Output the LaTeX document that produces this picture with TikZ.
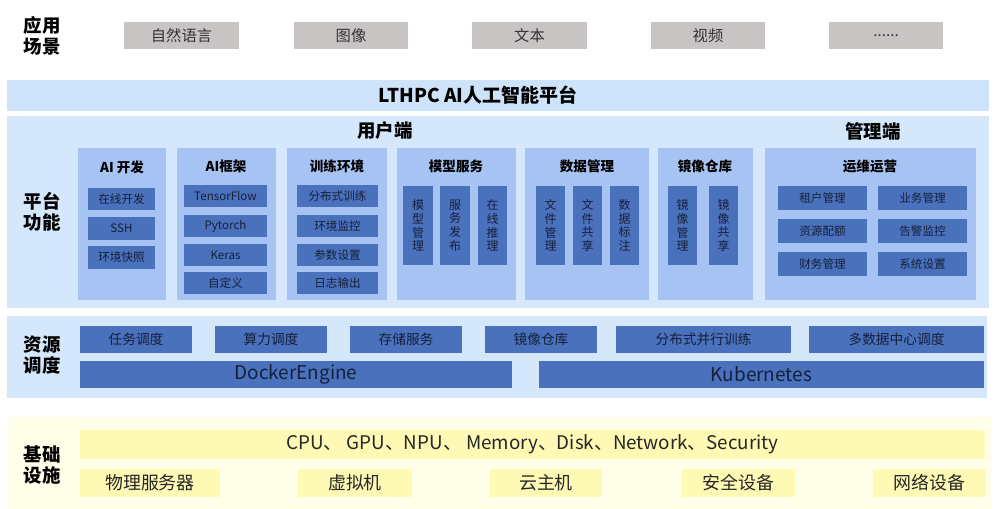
\documentclass[tikz,border=0pt]{standalone}
\usepackage{fontspec}
\setmainfont{Noto Sans CJK SC}
\definecolor{appgray}{HTML}{C9C4C4}
\definecolor{barblue}{HTML}{CCE3F9}
\definecolor{secblue}{HTML}{D4E7FB}
\definecolor{colblue}{HTML}{A6C3F3}
\definecolor{itemblue}{HTML}{4A71BC}
\definecolor{itemtext}{HTML}{15203A}
\definecolor{ybg}{HTML}{FFFEE9}
\definecolor{ybar}{HTML}{FFF9B6}
\newcommand\bx[7]{\node[#2, minimum width={(#5-#3)*0.02cm}, minimum height={(#6-#4)*0.02cm}] (#1) at ({(#3+#5)/2},{(#4+#6)/2}) {#7};}
\tikzset{
  base/.style={inner sep=0pt, outer sep=0pt},
  appbox/.style={base, fill=appgray, text=black!80, font=\fontsize{8.7}{10}\selectfont},
  bar/.style={base, fill=barblue},
  sect/.style={base, fill=secblue},
  col/.style={base, fill=colblue},
  item/.style={base, fill=itemblue, text=itemtext, font=\fontsize{6.6}{8}\selectfont},
  vitem/.style={base, fill=itemblue, text=itemtext, align=center, font=\fontsize{6.8}{7.8}\selectfont},
  ritem/.style={base, fill=itemblue, text=itemtext, font=\fontsize{7.8}{9}\selectfont},
  bigitem/.style={base, fill=itemblue, text=itemtext, font=\fontsize{10.8}{12}\selectfont},
  ybox/.style={base, fill=ybar, text=black!85, font=\fontsize{10.2}{12}\selectfont},
  lbl/.style={base, align=center, font=\bfseries\fontsize{10.5}{12}\selectfont},
  coltitle/.style={base, font=\bfseries\fontsize{7.7}{9}\selectfont},
  sectitle/.style={base, font=\bfseries\fontsize{10.5}{12}\selectfont},
}
\begin{document}
\begin{tikzpicture}[x=0.02cm, y=-0.02cm]
\useasboundingbox[fill=white] (0,0) rectangle (1000,509);
% application row
\node[lbl] (l1) at (42,36) {应用\\场景};
\bx{a1}{appbox}{124}{22}{239}{49}{自然语言}
\bx{a2}{appbox}{294}{22}{408}{49}{图像}
\bx{a3}{appbox}{472}{22}{587}{49}{文本}
\bx{a4}{appbox}{651}{22}{765}{49}{视频}
\bx{a5}{appbox}{829}{22}{943}{49}{......}
% platform bar
\bx{plat}{bar}{7}{80}{989}{111}{}
\node[base, font=\bfseries\fontsize{10.8}{12}\selectfont] (pt) at (478,95.5) {LTHPC AI人工智能平台};
% platform functions
\bx{pf}{sect}{7}{116}{989}{308}{}
\node[lbl] (l2) at (42,212) {平台\\功能};
\node[sectitle] (ut) at (385,131) {用户端};
\node[sectitle] (mt) at (873,131) {管理端};
% AI dev
\bx{c1}{col}{78}{148}{166}{300}{}
\node[coltitle] (t1) at (122,167) {AI 开发};
\bx{c1a}{item}{88}{188}{155}{210}{在线开发}
\bx{c1b}{item}{88}{217}{155}{240}{SSH}
\bx{c1c}{item}{88}{246}{155}{269}{环境快照}
% AI framework
\bx{c2}{col}{177}{148}{276}{300}{}
\node[coltitle] (t2) at (226,166) {AI框架};
\bx{c2a}{item}{184}{185}{267}{207}{TensorFlow}
\bx{c2b}{item}{184}{215}{267}{237}{Pytorch}
\bx{c2c}{item}{184}{244}{267}{266}{Keras}
\bx{c2d}{item}{184}{272}{267}{294}{自定义}
% training env
\bx{c3}{col}{287}{148}{387}{300}{}
\node[coltitle] (t3) at (337,166) {训练环境};
\bx{c3a}{item}{297}{185}{378}{207}{分布式训练}
\bx{c3b}{item}{297}{215}{378}{237}{环境监控}
\bx{c3c}{item}{297}{244}{378}{266}{参数设置}
\bx{c3d}{item}{297}{272}{378}{294}{日志输出}
% model service
\bx{c4}{col}{397}{148}{516}{300}{}
\node[coltitle] (t4) at (456,166) {模型服务};
\bx{c4a}{vitem}{403}{186}{433}{265}{模\\型\\管\\理}
\bx{c4b}{vitem}{440}{186}{470}{265}{服\\务\\发\\布}
\bx{c4c}{vitem}{478}{186}{507}{265}{在\\线\\推\\理}
% data management
\bx{c5}{col}{525}{148}{649}{300}{}
\node[coltitle] (t5) at (587,166) {数据管理};
\bx{c5a}{vitem}{536}{186}{565}{265}{文\\件\\管\\理}
\bx{c5b}{vitem}{573}{186}{602}{265}{文\\件\\共\\享}
\bx{c5c}{vitem}{610}{186}{639}{265}{数\\据\\标\\注}
% image repo
\bx{c6}{col}{658}{148}{753}{300}{}
\node[coltitle] (t6) at (705,166) {镜像仓库};
\bx{c6a}{vitem}{668}{186}{697}{265}{镜\\像\\管\\理}
\bx{c6b}{vitem}{709}{186}{738}{265}{镜\\像\\共\\享}
% ops
\bx{c7}{col}{765}{148}{976}{300}{}
\node[coltitle] (t7) at (870,166) {运维运营};
\bx{c7a}{item}{778}{186}{867}{210}{租户管理}
\bx{c7b}{item}{878}{186}{967}{210}{业务管理}
\bx{c7c}{item}{778}{219}{867}{243}{资源配额}
\bx{c7d}{item}{878}{219}{967}{243}{告警监控}
\bx{c7e}{item}{778}{252}{867}{276}{财务管理}
\bx{c7f}{item}{878}{252}{967}{276}{系统设置}
% resource scheduling
\bx{rs}{sect}{7}{316}{987}{398}{}
\node[lbl] (l3) at (42,355) {资源\\调度};
\bx{r1}{ritem}{80}{326}{192}{353}{任务调度}
\bx{r2}{ritem}{215}{326}{327}{353}{算力调度}
\bx{r3}{ritem}{350}{326}{462}{353}{存储服务}
\bx{r4}{ritem}{485}{326}{597}{353}{镜像仓库}
\bx{r5}{ritem}{616}{326}{791}{353}{分布式并行训练}
\bx{r6}{ritem}{809}{326}{984}{353}{多数据中心调度}
\bx{r7}{bigitem}{80}{361}{512}{388}{DockerEngine}
\bx{r8}{bigitem}{539}{361}{984}{388}{Kubernetes}
% infrastructure
\bx{inf}{base, fill=ybg}{7}{417}{992}{509}{}
\node[lbl] (l4) at (42,465) {基础\\设施};
\bx{i0}{ybox, font=\fontsize{10.7}{12}\selectfont}{80}{430}{985}{459}{CPU、 GPU、NPU、 Memory、Disk、Network、Security}
\bx{i1}{ybox}{80}{469}{220}{497}{物理服务器}
\bx{i2}{ybox}{298}{469}{412}{497}{虚拟机}
\bx{i3}{ybox}{490}{469}{602}{497}{云主机}
\bx{i4}{ybox}{682}{469}{795}{497}{安全设备}
\bx{i5}{ybox}{873}{469}{986}{497}{网络设备}
\end{tikzpicture}
\end{document}
